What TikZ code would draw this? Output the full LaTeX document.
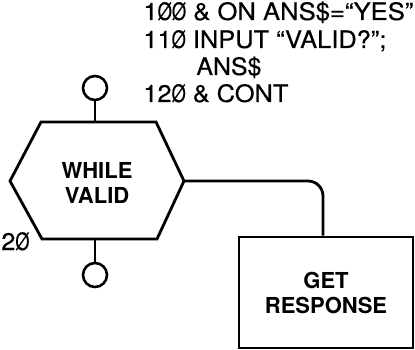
\documentclass[tikz,border=0pt]{standalone}
\usepackage{graphicx}
\usepackage{fontspec}
\setmainfont{TeX Gyre Heros}
\newfontfamily\codefont[FakeBold=0.4]{TeX Gyre Heros}
\newcommand\zr{\makebox[0.556em][c]{\scalebox{0.72}[1]{Ø}}}
\newcommand\fitw[2]{\resizebox{#1}{\height}{#2}}
\begin{document}
\begin{tikzpicture}[x=1pt,y=-1pt, line width=2.8pt,
  code/.style={anchor=base west, inner sep=0pt, font=\codefont\fontsize{24}{24}\selectfont},
  lbl/.style={align=center, inner sep=0pt, font=\fontsize{22}{25}\selectfont\bfseries},
  knob/.style={circle, draw, minimum size=24pt, inner sep=0pt, line width=2.6pt},
  boxst/.style={draw, minimum width=174pt, minimum height=111pt, inner sep=0pt}]
\useasboundingbox[fill=white] (0,0) rectangle (415,350);
% hexagon
\draw (10,181) -- (41,122) -- (156,122) -- (184,181) -- (157,239) -- (42,239) -- cycle;
\coordinate (hT) at (95,122);
\coordinate (hB) at (95,239);
\coordinate (hR) at (184,181);
\node[lbl] (while) at (97,182.5) {WHILE\\VALID};
% knobs
\node[knob] (k1) at (95,88) {};
\node[knob] (k2) at (95,275) {};
\draw (k1) -- (hT);
\draw (hB) -- (k2);
% box
\node[boxst, lbl] (box) at (326,292.5) {GET\\RESPONSE};
\draw[rounded corners=15pt] (hR) -| ([xshift=-3pt]box.north);
% code
\node[code] (l1) at (142,20) {\fitw{270pt}{1\zr\zr{} \& ON ANS\$=“YES”}};
\node[code] (l2) at (142,48) {\fitw{243pt}{11\zr{} INPUT “VALID?”;}};
\node[code] (l3) at (195,75) {\fitw{65pt}{ANS\$}};
\node[code] (l4) at (142,102) {\fitw{145pt}{12\zr{} \& CONT}};
\node[code] (l5) at (0,250) {\fitw{28pt}{2\zr}};
\end{tikzpicture}
\end{document}
